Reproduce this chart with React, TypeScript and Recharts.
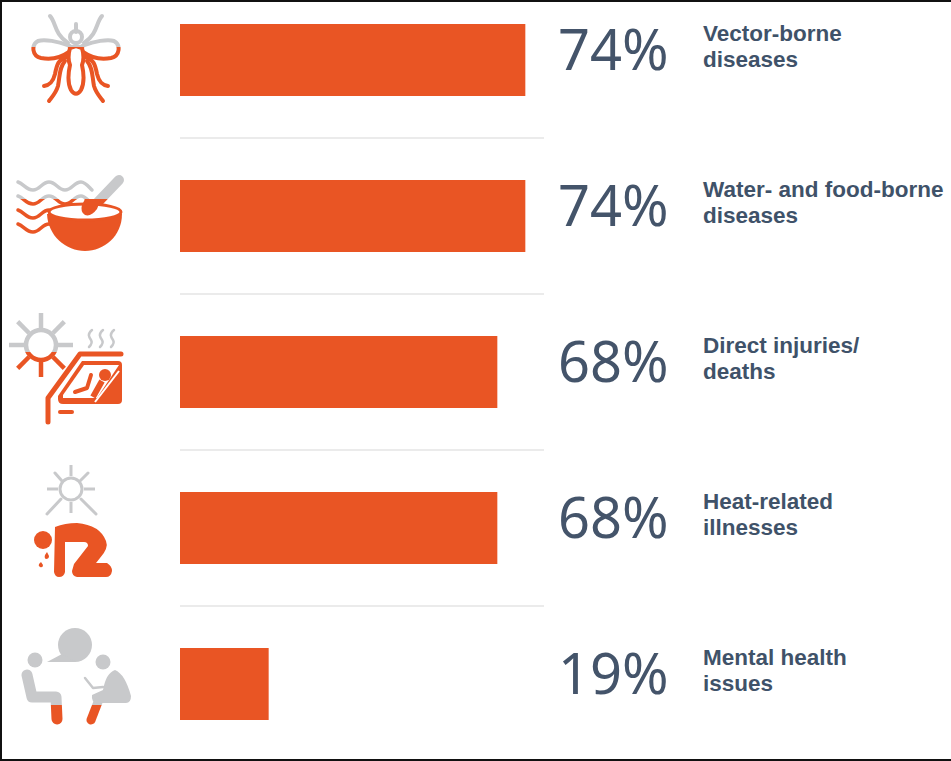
import { BarChart, Bar, XAxis, YAxis, CartesianGrid, LabelList } from 'recharts';

const categories = [
  'Vector-borne diseases',
  'Water- and food-borne diseases',
  'Direct injuries/ deaths',
  'Heat-related illnesses',
  'Mental health issues',
];
const percents = [74, 74, 68, 68, 19];
const labelLines = [
  ['Vector-borne', 'diseases'],
  ['Water- and food-borne', 'diseases'],
  ['Direct injuries/', 'deaths'],
  ['Heat-related', 'illnesses'],
  ['Mental health', 'issues'],
];

const ORANGE = '#e95524';
const GRAY = '#c8c9cb';
const rows = categories.map((name, i) => ({ name, value: percents[i] }));

// draws the same shapes twice: gray above the split line, orange below
function TwoTone({ id, split, children }: { id: string; split: number; children: React.ReactNode }) {
  return (
    <g fill="none" strokeLinecap="round" strokeLinejoin="round">
      <clipPath id={`${id}-top`}>
        <rect x={0} y={split - 200} width={180} height={200} />
      </clipPath>
      <clipPath id={`${id}-bottom`}>
        <rect x={0} y={split} width={180} height={200} />
      </clipPath>
      <g clipPath={`url(#${id}-top)`} color={GRAY}>{children}</g>
      <g clipPath={`url(#${id}-bottom)`} color={ORANGE}>{children}</g>
    </g>
  );
}

function Mosquito() {
  const c = 'currentColor';
  return (
    <TwoTone id="mosquito" split={47}>
      <g stroke={c} strokeWidth={4}>
        <path d="M50 16 C56 22 54 34 68 43" />
        <path d="M102 16 C96 22 98 34 84 43" />
        <path d="M76 24 V32" />
        <circle cx={76} cy={37} r={6} />
        <path d="M70 46 C58 41 44 39 38 41 C31 45 32 56 41 58 C52 60 62 57 69 52" />
        <path d="M82 46 C94 41 108 39 114 41 C121 45 120 56 111 58 C100 60 90 57 83 52" />
        <path d="M67 57 C58 60 57 64 55 74 C53 82 50 85 44 86" />
        <path d="M85 57 C94 60 95 64 97 74 C99 82 102 85 108 86" />
        <path d="M65 61 C59 68 60 76 58 86 C56 93 52 97 49 101" />
        <path d="M87 61 C93 68 92 76 94 86 C96 93 100 97 103 101" />
        <path d="M70 48 L76 46 L82 48 C84 55 84 60 82 65 C84 74 84 84 81 90 C78 95 74 95 71 90 C68 84 68 74 70 65 C68 60 68 55 70 48 Z" fill="#fff" />
      </g>
    </TwoTone>
  );
}

function Bowl() {
  const c = 'currentColor';
  const wave = (y: number) =>
    `M18 ${y} C24 ${y + 2} 26 ${y + 8} 33 ${y + 8} C40 ${y + 8} 42 ${y} 49 ${y} C56 ${y} 58 ${y + 8} 65 ${y + 8} C72 ${y + 8} 74 ${y} 81 ${y} C85 ${y} 88 ${y + 4} 92 ${y + 8}`;
  return (
    <g>
      <TwoTone id="bowl" split={199}>
        <g stroke={c} strokeWidth={3.5}>
          <path d={wave(182)} />
          <path d={wave(196)} />
          <path d={wave(210)} />
          <path d={wave(224)} />
          <path d="M119 180 L98 202" strokeWidth={10} />
        </g>
      </TwoTone>
      <path d="M47 214 C48 236 66 251 85 251 C104 251 122 236 122 214 Z" fill={ORANGE} />
      <ellipse cx={85} cy={212} rx={36} ry={8} fill="#fff" stroke={ORANGE} strokeWidth={3} />
      <path d="M85 199 H101 L97 209 Q91 217 85 215 Q80 212 82 205 Z" fill={ORANGE} />
    </g>
  );
}

function sunRays(cx: number, cy: number, inner: number, outer: number, diag: number) {
  return [0, 45, 90, 135, 180, 225, 270, 315].map((a) => {
    const r = (a * Math.PI) / 180;
    const o = a % 90 === 0 ? outer : diag;
    return (
      <path
        key={a}
        d={`M${cx + inner * Math.cos(r)} ${cy + inner * Math.sin(r)} L${cx + o * Math.cos(r)} ${cy + o * Math.sin(r)}`}
      />
    );
  });
}

function CarSun() {
  const c = 'currentColor';
  return (
    <g>
      <TwoTone id="carsun" split={352}>
        <g stroke={c} strokeWidth={4.5} strokeLinecap="butt">
          <circle cx={41} cy={345} r={15} />
          {sunRays(41, 345, 17, 32, 33)}
        </g>
      </TwoTone>
      <g fill="none" stroke={GRAY} strokeWidth={2.5} strokeLinecap="round">
        <path d="M92 330 C87 334 89 337 91 340 C93 343 91 345 89 347" />
        <path d="M103 330 C98 334 100 337 102 340 C104 343 102 345 100 347" />
        <path d="M114 330 C109 334 111 337 113 340 C115 343 113 345 111 347" />
      </g>
      <path d="M121 354 H80 L48 398 V422" fill="none" stroke={ORANGE} strokeWidth={5} strokeLinecap="round" strokeLinejoin="round" />
      <path d="M82 361 H118 Q122 361 122 365 V400 Q122 404 118 404 H63 Q58 404 58 399 V396 Z" fill={ORANGE} />
      <path d="M84 365 H119 L97 398 H63 V395 Z" fill="#fff" />
      <path d="M119 371 L95 402" stroke="#fff" strokeWidth={2} />
      <circle cx={105} cy={375} r={6} fill={ORANGE} />
      <path d="M102 381 L93 397" stroke={ORANGE} strokeWidth={6} />
      <path d="M75 392 L87 388 L91 375" fill="none" stroke={ORANGE} strokeWidth={4} strokeLinecap="round" strokeLinejoin="round" />
      <path d="M60 412 H72" stroke={ORANGE} strokeWidth={4} strokeLinecap="round" />
    </g>
  );
}

function SickPerson() {
  return (
    <g>
      <g fill="none" stroke={GRAY} strokeWidth={3}>
        <circle cx={71} cy={489} r={11} />
        {sunRays(71, 489, 13, 24, 13)}
        <path d="M62 481 L55 473 M80 481 L88 473 M61 499 L47 514 M81 499 L96 514" strokeLinecap="round" />
      </g>
      <circle cx={43} cy={540} r={9} fill={ORANGE} />
      <path d="M47 552 L49 556 Q49 559 46 559 Q44 558 45 555 Z M41 562 L43 565 Q43 568 40 567 Q38 566 39 564 Z" fill={ORANGE} />
      <path
        d="M55 527 Q65 523 77 523 Q100 525 106 541 Q109 548 100 558 L96 563 H107 Q112 566 112 571 Q111 577 106 577 H77 Q72 576 72 571 L74 564 L88 546 Q88 542 84 542 H65 V572 Q64 577 59 577 Q55 577 54 572 Z"
        fill={ORANGE}
      />
    </g>
  );
}

function Talking() {
  const c = 'currentColor';
  return (
    <TwoTone id="talking" split={705}>
      <circle cx={75} cy={645} r={17} fill={c} />
      <path d="M47 662 L62 654 L76 662 Z" fill={c} />
      <circle cx={35} cy={660} r={7.5} fill={c} />
      <circle cx={103} cy={662} r={7.5} fill={c} />
      <path d="M27 675 L32 697 H56 L57 719" stroke={c} strokeWidth={11} />
      <path d="M115 670 Q125 674 131 696 Q131 703 126 703 H97 Q91 702 92 695 L103 690 Q106 673 115 670 Z" fill={c} />
      <path d="M85 678 L93 688 L103 687" stroke={c} strokeWidth={2.5} />
      <path d="M98 702 L91 720" stroke={c} strokeWidth={9} />
    </TwoTone>
  );
}

const icons = [Mosquito, Bowl, CarSun, SickPerson, Talking];
const iconCenters = [60, 216, 372, 528, 684];

function IconTick({ y, index }: any) {
  const Icon = icons[index];
  return (
    <g transform={`translate(0 ${y - iconCenters[index]})`}>
      <Icon />
    </g>
  );
}

function RowLabel({ y, height, index, value }: any) {
  const mid = y + height / 2;
  const lines = labelLines[index];
  return (
    <g>
      <text x={558} y={mid + 10} fontFamily="Noto Sans" fontSize={56} fill="#44546a">
        {value}%
      </text>
      <text x={703} y={mid - 19} fontFamily="Liberation Sans" fontWeight={700} fontSize={22.5} fill="#3f5269">
        {lines[0]}
      </text>
      <text x={703} y={mid + 7} fontFamily="Liberation Sans" fontWeight={700} fontSize={22.5} fill="#3f5269">
        {lines[1]}
      </text>
    </g>
  );
}

export default function App() {
  return (
    <div style={{ position: 'relative', width: 951, height: 761, overflow: 'hidden', background: '#fff' }}>
      <style>{'body{margin:0}'}</style>
      <div style={{ position: 'absolute', top: -18, left: 0 }}>
        <BarChart
          width={951}
          height={780}
          data={rows}
          layout="vertical"
          barCategoryGap={42}
          margin={{ top: 0, right: 407, bottom: 0, left: 0 }}
          style={{ overflow: 'visible' }}
        >
          <CartesianGrid
            vertical={false}
            stroke="#e4e4e4"
            strokeWidth={1.5}
            horizontalCoordinatesGenerator={({ offset }: any) =>
              rows.slice(1).map((_, i) => offset.top + (offset.height * (i + 1)) / rows.length)
            }
          />
          <XAxis type="number" domain={[0, 78]} hide />
          <YAxis type="category" dataKey="name" width={180} axisLine={false} tickLine={false} tick={IconTick} />
          <Bar dataKey="value" fill={ORANGE} isAnimationActive={false}>
            <LabelList dataKey="value" content={RowLabel} />
          </Bar>
        </BarChart>
      </div>
      <div
        style={{
          position: 'absolute',
          inset: 0,
          borderTop: '2px solid #111',
          borderLeft: '2px solid #111',
          borderBottom: '2px solid #111',
          pointerEvents: 'none',
        }}
      />
    </div>
  );
}
